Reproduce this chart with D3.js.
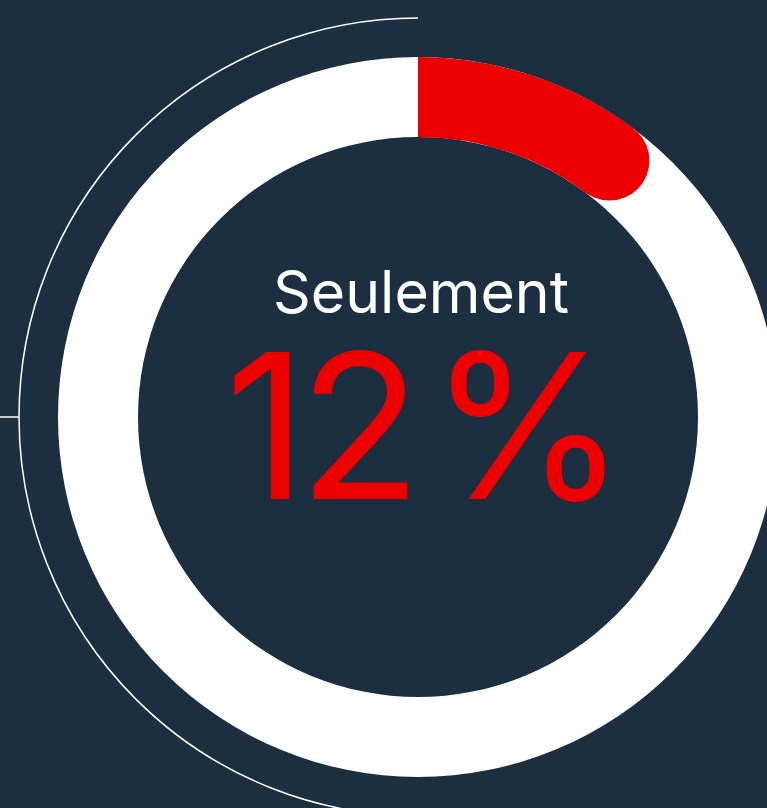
<!DOCTYPE html>
<html>
<head>
<meta charset="utf-8">
<script src="https://cdn.jsdelivr.net/npm/d3@7"></script>
<style>
  html, body { margin: 0; padding: 0; background: #1b2f40; }
  svg { display: block; }
</style>
</head>
<body>
<div id="donut"></div>
<script>
/* Donut: share shown in red */

const label = ["Seulement"];
const values = [12];      // percent
const total = [100];

const width = 767,
      height = 808,
      cx = 418,
      cy = 417,
      outerR = 360,
      innerR = 280,
      lineR = 399;

let svg = d3.select("#donut")
        .append("svg")
        .attr("width", width)
        .attr("height", height)
        .attr("viewBox", [0, 0, width, height]);

svg.append("rect")
    .attr("width", width)
    .attr("height", height)
    .attr("fill", "#1b2f40");

const angle = d3.scaleLinear()
        .domain([0, total[0]])
        .range([0, 2 * Math.PI]);

const g = svg.append("g")
    .attr("transform", `translate(${cx}, ${cy})`);

// thin outline on the left half, with a small tick
const p = d3.path();
p.arc(0, 0, lineR, -Math.PI / 2, Math.PI / 2, true);
g.append("path")
    .attr("d", p.toString())
    .attr("fill", "none")
    .attr("stroke", "white")
    .attr("stroke-width", 1.5);

g.append("line")
    .attr("x1", -lineR)
    .attr("x2", -cx - 5)
    .attr("y1", 0)
    .attr("y2", 0)
    .attr("stroke", "white")
    .attr("stroke-width", 1.5);

// white full ring
const arc = d3.arc()
    .innerRadius(innerR)
    .outerRadius(outerR);

g.append("path")
    .attr("d", arc({ startAngle: 0, endAngle: 2 * Math.PI }))
    .attr("fill", "white");

// red value arc, square start and round end cap
const capR = (outerR - innerR) / 2,
      midR = (outerR + innerR) / 2,
      capAngle = capR / midR * 0.9,
      endA = angle(values[0]) - capAngle;

g.append("path")
    .attr("d", arc({ startAngle: 0, endAngle: endA }))
    .attr("fill", "#ec0000");

g.append("circle")
    .attr("cx", midR * Math.sin(endA))
    .attr("cy", -midR * Math.cos(endA))
    .attr("r", capR)
    .attr("fill", "#ec0000");

// labels
g.append("text")
    .text(label[0])
    .attr("x", 3)
    .attr("y", -104)
    .attr("text-anchor", "middle")
    .style("font-family", "Inter, 'Noto Sans', sans-serif")
    .style("font-size", "59px")
    .style("font-weight", 400)
    .style("fill", "white");

const big = g.append("text")
    .attr("y", 82)
    .attr("text-anchor", "middle")
    .style("font-family", "Inter, 'Noto Sans', sans-serif")
    .style("font-size", "202px")
    .style("font-weight", 400)
    .style("fill", "#ec0000");

const parts = String(values[0]).split("").concat(["%"]);
const partX = [-152, -58, 110];
big.selectAll("tspan")
    .data(parts)
    .join("tspan")
    .attr("x", (d, i) => partX[i])
    .text(d => d);
</script>
</body>
</html>
